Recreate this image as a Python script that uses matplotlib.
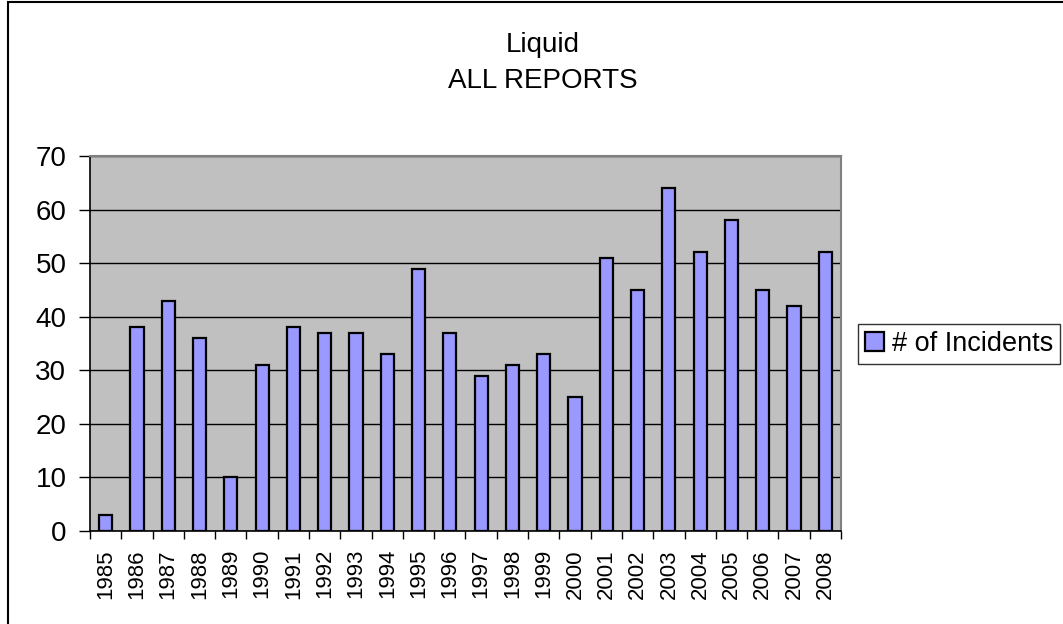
import numpy as np
import matplotlib.pyplot as plt
from matplotlib.patches import Rectangle

plt.rcParams['font.family'] = ['Liberation Sans', 'DejaVu Sans']

# data
years = [str(y) for y in range(1985, 2009)]
incidents = [3, 38, 43, 36, 10, 31, 38, 37, 37, 33, 49, 37,
             29, 31, 33, 25, 51, 45, 64, 52, 58, 45, 42, 52]
y_ticks = [0, 10, 20, 30, 40, 50, 60, 70]

W, H = 1063, 624
fig = plt.figure(figsize=(W / 100, H / 100), dpi=100)

# outer chart border, like the Excel chart area
fig.patches.append(Rectangle((8 / W, -0.05), 1.2, 1 + 0.05 - 2 / H,
                             transform=fig.transFigure, fill=False,
                             edgecolor="black", linewidth=1.5))

ax = fig.add_axes([90 / W, 1 - 531 / H, (841 - 90) / W, (531 - 156) / H])
ax.set_facecolor("#C0C0C0")

x = np.arange(len(years))
ax.bar(x, incidents, width=0.42, color="#9999FF", edgecolor="black",
       linewidth=1.6, label="# of Incidents", zorder=3)

ax.set_xlim(-0.5, len(years) - 0.5)
ax.set_ylim(0, 70)
ax.set_yticks(y_ticks)
ax.set_yticklabels([str(v) for v in y_ticks], fontsize=20)
ax.yaxis.grid(True, color="black", linewidth=1, zorder=1)
ax.set_axisbelow(True)

ax.set_xticks(x)
ax.set_xticklabels(years, rotation=90, fontsize=16)
ax.set_xticks(np.arange(len(years) + 1) - 0.5, minor=True)
ax.tick_params(axis="x", which="major", length=0, pad=13)
ax.tick_params(axis="x", which="minor", length=6, width=1, color="black")
ax.tick_params(axis="y", length=8, width=1, pad=9)

for side in ["left", "bottom"]:
    ax.spines[side].set_color("black")
    ax.spines[side].set_linewidth(1.2)
for side in ["top", "right"]:
    ax.spines[side].set_color("#808080")
    ax.spines[side].set_linewidth(1.5)

fig.text(543 / W, 1 - 45 / H, "Liquid", ha="center", va="center", fontsize=20)
fig.text(543 / W, 1 - 81 / H, "ALL REPORTS", ha="center", va="center", fontsize=20)

leg = fig.legend(loc="upper left", bbox_to_anchor=(858 / W, 1 - 324 / H),
                 fontsize=19.5, frameon=True, fancybox=False, edgecolor="black",
                 handlelength=0.7, handleheight=0.7, handletextpad=0.3,
                 borderpad=0.25, borderaxespad=0)
leg.get_frame().set_linewidth(1)

fig.savefig("out.png", dpi=100)
